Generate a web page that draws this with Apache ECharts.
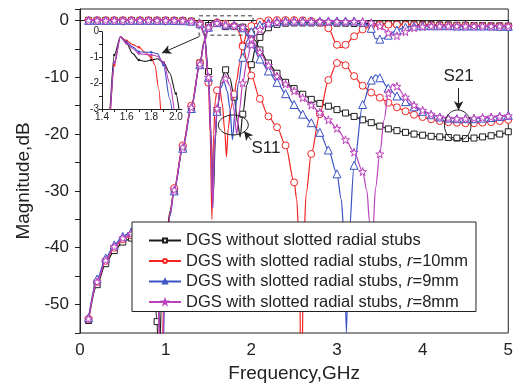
<!DOCTYPE html>
<html>
<head>
<meta charset="utf-8">
<title>DGS S-parameters</title>
<script src="https://cdn.jsdelivr.net/npm/echarts@6/dist/echarts.min.js"></script>
</head>
<body style="margin:0;background:#fff;">
<div id="main" style="width:516px;height:388px;"></div>
<script type="text/javascript">
// legend names
var names = [
    'DGS without slotted radial stubs',
    'DGS with slotted radial stubs, r=10mm',
    'DGS with slotted radial stubs, r=9mm',
    'DGS with slotted radial stubs, r=8mm'
];

// S21 curves [GHz, dB]
var s21Dgs = [[0.1,-52.8],[0.2,-46.5],[0.3,-42.8],[0.4,-40.5],[0.5,-39],[0.6,-38.3],[0.7,-38.3],[0.8,-40],[0.85,-43],[0.9,-53],[0.92,-65],[0.95,-50],[1.0,-39.5],[1.05,-33.6],[1.1,-29.8],[1.2,-22.3],[1.3,-15.2],[1.4,-7.5],[1.45,-3.6],[1.5,-0.9],[1.55,-0.2],[1.6,-0.45],[1.65,-0.85],[1.7,-1.1],[1.75,-1.15],[1.8,-1.1],[1.85,-1.05],[1.9,-1.2],[1.95,-1.6],[2.0,-2.4],[2.05,-3.6],[2.1,-5.2],[2.2,-7.5],[2.3,-9.3],[2.4,-10.9],[2.5,-12],[2.6,-13],[2.7,-13.9],[2.8,-14.6],[2.9,-15.1],[3.0,-15.7],[3.1,-16.3],[3.2,-16.9],[3.3,-17.5],[3.4,-18],[3.5,-18.6],[3.6,-19.1],[3.7,-19.4],[3.8,-19.7],[3.9,-20],[4.0,-20.2],[4.1,-20.4],[4.2,-20.5],[4.3,-20.6],[4.4,-20.7],[4.5,-20.8],[4.6,-20.7],[4.7,-20.5],[4.8,-20.3],[4.9,-20],[5.0,-19.6]];
var s21R10 = [[0.1,-52.5],[0.2,-46],[0.3,-42.3],[0.4,-40],[0.5,-38.5],[0.6,-37.8],[0.7,-37.5],[0.8,-38.5],[0.85,-40.5],[0.9,-45],[0.95,-65],[0.98,-48],[1.0,-42],[1.05,-34],[1.1,-29.5],[1.2,-22],[1.3,-15],[1.4,-7.5],[1.45,-4],[1.5,-1.3],[1.55,-0.2],[1.6,-0.35],[1.65,-0.5],[1.7,-0.6],[1.75,-0.8],[1.8,-1.0],[1.83,-1.3],[1.86,-2.2],[1.9,-4.4],[1.95,-7.2],[2.0,-9.7],[2.1,-13.8],[2.2,-16.9],[2.3,-18.8],[2.4,-22],[2.5,-28.5],[2.53,-31.5],[2.56,-40],[2.585,-72],[2.61,-40],[2.64,-30.5],[2.7,-23.5],[2.8,-16.5],[2.9,-10.5],[3.0,-7.5],[3.05,-7.3],[3.1,-7.9],[3.2,-9.8],[3.3,-11.5],[3.4,-12.7],[3.5,-13.6],[3.6,-14.5],[3.7,-15.3],[3.8,-16],[3.9,-16.6],[4.0,-17],[4.1,-17.4],[4.2,-17.7],[4.3,-17.9],[4.4,-18],[4.5,-18.1],[4.6,-18.1],[4.7,-18],[4.8,-17.9],[4.9,-17.7],[5.0,-17.5]];
var s21R9 = [[0.1,-52.3],[0.2,-45.5],[0.3,-41.8],[0.4,-39.5],[0.5,-38],[0.6,-37.2],[0.7,-37],[0.8,-38],[0.85,-40],[0.9,-44],[0.96,-66],[0.99,-48],[1.05,-34.5],[1.1,-30],[1.2,-22.5],[1.3,-15.5],[1.4,-7.8],[1.45,-3.9],[1.5,-1.2],[1.55,-0.2],[1.6,-0.4],[1.65,-0.6],[1.7,-0.78],[1.75,-0.8],[1.8,-0.8],[1.85,-0.85],[1.9,-1.3],[1.95,-2.6],[2.0,-4.0],[2.1,-6.8],[2.2,-8.9],[2.3,-10.9],[2.4,-12.9],[2.5,-14.8],[2.6,-16.5],[2.7,-18],[2.8,-19.7],[2.9,-22.8],[3.0,-27],[3.05,-31.5],[3.08,-37],[3.11,-55],[3.14,-38],[3.2,-25.5],[3.3,-14.8],[3.4,-10.5],[3.45,-9.6],[3.5,-10.1],[3.6,-11.9],[3.7,-13.3],[3.8,-14.3],[3.9,-15.2],[4.0,-16],[4.1,-16.6],[4.2,-17],[4.3,-17.2],[4.4,-17.3],[4.5,-17.3],[4.6,-17.3],[4.7,-17.2],[4.8,-17.1],[4.9,-16.9],[5.0,-16.7]];
var s21R8 = [[0.1,-52.5],[0.2,-46],[0.3,-42.2],[0.4,-39.8],[0.5,-38.3],[0.6,-37.5],[0.7,-37.3],[0.8,-38.3],[0.85,-40.3],[0.9,-44.5],[0.955,-66],[0.985,-48],[1.05,-34.2],[1.1,-29.8],[1.2,-22.3],[1.3,-15.3],[1.4,-7.7],[1.45,-3.8],[1.5,-1.2],[1.55,-0.2],[1.6,-0.45],[1.65,-0.65],[1.7,-0.85],[1.75,-0.88],[1.8,-0.9],[1.85,-0.95],[1.9,-1.2],[1.95,-2.0],[2.0,-3.3],[2.1,-5.6],[2.2,-7.9],[2.3,-9.8],[2.4,-11.2],[2.5,-12.4],[2.6,-13.6],[2.7,-14.9],[2.8,-16.2],[2.9,-17.5],[3.0,-19],[3.1,-21],[3.2,-23.2],[3.3,-26.6],[3.35,-30],[3.38,-35.5],[3.4,-46],[3.42,-37],[3.45,-29.5],[3.5,-23.5],[3.55,-17.5],[3.6,-12.8],[3.65,-11.2],[3.7,-11.6],[3.8,-13.5],[3.9,-14.9],[4.0,-15.8],[4.1,-16.5],[4.2,-17],[4.3,-17.2],[4.4,-17.3],[4.5,-17.3],[4.6,-17.2],[4.7,-17.1],[4.8,-17],[4.9,-16.9],[5.0,-16.8]];

// S11 curves [GHz, dB]
var s11Dgs = [[0.1,0],[0.2,0],[0.3,0],[0.4,0],[0.5,0],[0.6,0],[0.7,0],[0.8,0],[0.9,0],[1.0,0],[1.1,-0.02],[1.2,-0.05],[1.3,-0.15],[1.4,-0.6],[1.45,-2.2],[1.5,-9],[1.53,-20],[1.555,-31],[1.58,-21],[1.6,-16],[1.65,-10.5],[1.7,-8.7],[1.75,-10.2],[1.8,-13.5],[1.84,-18],[1.87,-20.5],[1.9,-16.5],[1.95,-11.3],[2.0,-7.8],[2.05,-4.8],[2.1,-3.0],[2.2,-1.3],[2.3,-0.7],[2.4,-0.5],[2.5,-0.45],[2.6,-0.45],[2.7,-0.45],[2.8,-0.45],[2.9,-0.5],[3.0,-0.5],[3.1,-0.5],[3.2,-0.55],[3.3,-0.55],[3.4,-0.6],[3.5,-0.6],[3.6,-0.65],[3.7,-0.65],[3.8,-0.7],[3.9,-0.7],[4.0,-0.75],[4.1,-0.75],[4.2,-0.8],[4.3,-0.8],[4.4,-0.85],[4.5,-0.85],[4.6,-0.9],[4.7,-0.9],[4.8,-0.95],[4.9,-0.95],[5.0,-1.0]];
var s11R10 = [[0.1,0],[0.2,0],[0.3,0],[0.4,0],[0.5,0],[0.6,0],[0.7,0],[0.8,0],[0.9,0],[1.0,0],[1.1,-0.02],[1.2,-0.05],[1.3,-0.15],[1.4,-0.6],[1.45,-2.5],[1.5,-11],[1.52,-20],[1.54,-35],[1.56,-20],[1.58,-14],[1.6,-12.3],[1.63,-12],[1.66,-14.5],[1.69,-19.5],[1.71,-24],[1.73,-19],[1.76,-15.5],[1.8,-13],[1.83,-10.5],[1.86,-7.8],[1.9,-4.6],[1.95,-2.2],[2.0,-1.0],[2.05,-0.55],[2.1,-0.25],[2.2,0],[2.3,0.05],[2.4,0.05],[2.5,0.05],[2.6,0],[2.7,-0.1],[2.8,-0.4],[2.9,-1.4],[3.0,-4.3],[3.05,-4.8],[3.1,-4.3],[3.2,-2.8],[3.3,-1.6],[3.4,-1.0],[3.5,-0.8],[3.6,-0.75],[3.7,-0.75],[3.8,-0.8],[3.9,-0.8],[4.0,-0.85],[4.1,-0.85],[4.2,-0.9],[4.3,-0.9],[4.4,-0.95],[4.5,-0.95],[4.6,-1.0],[4.7,-1.0],[4.8,-1.05],[4.9,-1.05],[5.0,-1.1]];
var s11R9 = [[0.1,0],[0.2,0],[0.3,0],[0.4,0],[0.5,0],[0.6,0],[0.7,0],[0.8,0],[0.9,0],[1.0,0],[1.1,-0.02],[1.2,-0.05],[1.3,-0.15],[1.4,-0.6],[1.45,-2.4],[1.5,-10],[1.53,-21],[1.55,-33],[1.57,-22],[1.6,-16],[1.64,-12],[1.68,-10.8],[1.72,-12.5],[1.75,-15.5],[1.78,-21],[1.81,-16],[1.85,-11],[1.9,-6.5],[1.95,-3.6],[2.0,-2.0],[2.05,-1.2],[2.1,-0.8],[2.2,-0.4],[2.3,-0.2],[2.4,-0.1],[2.5,-0.1],[2.6,-0.1],[2.7,-0.1],[2.8,-0.1],[2.9,-0.1],[3.0,-0.1],[3.1,-0.1],[3.2,-0.1],[3.3,-0.3],[3.35,-0.7],[3.4,-1.4],[3.45,-3.2],[3.5,-3.3],[3.55,-3.1],[3.6,-2.6],[3.7,-1.7],[3.8,-1.2],[3.9,-1.0],[4.0,-0.95],[4.1,-0.95],[4.2,-0.95],[4.3,-0.95],[4.4,-1.0],[4.5,-1.0],[4.6,-1.0],[4.7,-1.0],[4.8,-1.0],[4.9,-1.05],[5.0,-1.05]];
var s11R8 = [[0.1,0],[0.2,0],[0.3,0],[0.4,0],[0.5,0],[0.6,0],[0.7,0],[0.8,0],[0.9,0],[1.0,0],[1.1,-0.02],[1.2,-0.05],[1.3,-0.15],[1.4,-0.6],[1.45,-2.4],[1.5,-10],[1.53,-21],[1.55,-33],[1.57,-22],[1.6,-15.5],[1.65,-11],[1.7,-10.2],[1.75,-11.5],[1.79,-15],[1.83,-20],[1.86,-16],[1.9,-11],[1.95,-7],[2.0,-4.3],[2.05,-2.7],[2.1,-1.6],[2.2,-0.6],[2.3,-0.3],[2.4,-0.2],[2.5,-0.2],[2.6,-0.2],[2.7,-0.2],[2.8,-0.2],[2.9,-0.2],[3.0,-0.2],[3.1,-0.2],[3.2,-0.2],[3.3,-0.2],[3.4,-0.4],[3.5,-1.0],[3.55,-1.6],[3.6,-2.2],[3.65,-2.6],[3.7,-2.7],[3.75,-2.4],[3.8,-2.0],[3.9,-1.3],[4.0,-1.1],[4.1,-1.0],[4.2,-1.0],[4.3,-1.0],[4.4,-1.0],[4.5,-1.0],[4.6,-1.0],[4.7,-1.0],[4.8,-1.0],[4.9,-1.0],[5.0,-1.0]];

var colors = ['#1c1c1c', '#f22424', '#3b52c4', '#bc40bc'];
var starPath = 'path://M50,0 L61,35 L98,35 L68,57 L79,91 L50,70 L21,91 L32,57 L2,35 L39,35 Z';
var symbols = ['rect', 'circle', 'triangle', starPath];
var symSizes = [6, 7, 8, 8];
var font = '"Liberation Sans", Arial, sans-serif';

// markers only on the 0.1 GHz grid, extra points just shape the line
function withMarks(pts) {
    return pts.map(function (p) {
        var onGrid = Math.abs(p[0] * 10 - Math.round(p[0] * 10)) < 1e-6;
        return onGrid ? p : { value: p, symbol: 'none' };
    });
}

var myChart = echarts.init(document.getElementById('main'), null, { renderer: 'canvas' });

var s21 = [s21Dgs, s21R10, s21R9, s21R8];
var s11 = [s11Dgs, s11R10, s11R9, s11R8];
var series = [];

for (var i = 0; i < 4; i++) {
    [s21[i], s11[i]].forEach(function (d) {
        series.push({
            name: names[i],
            type: 'line',
            data: withMarks(d),
            smooth: 0.3,
            smoothMonotone: 'x',
            showAllSymbol: true,
            symbol: symbols[i],
            symbolSize: symSizes[i],
            lineStyle: { color: colors[i], width: 1.2 },
            itemStyle: { color: '#fff', borderColor: colors[i], borderWidth: 1 },
            emphasis: { disabled: true },
            z: 2 + i
        });
    });
}
// inset: passband of S21
for (var j = 0; j < 4; j++) {
    series.push({
        name: names[j],
        type: 'line',
        xAxisIndex: 1,
        yAxisIndex: 1,
        data: withMarks(s21[j]),
        smooth: 0.3,
        smoothMonotone: 'x',
        symbol: 'circle',
        symbolSize: 2.5,
        lineStyle: { color: colors[j], width: 1.1 },
        itemStyle: { color: colors[j] },
        emphasis: { disabled: true }
    });
}
// zoom box and arrows
series.push({
    name: '',
    type: 'line',
    data: [],
    silent: true,
    markArea: {
        silent: true,
        itemStyle: { color: 'rgba(0,0,0,0)', borderColor: '#333', borderWidth: 1, borderType: [4, 3] },
        data: [[{ coord: [1.39, 0.8] }, { coord: [2.02, -2.6] }]]
    },
    markLine: {
        silent: true,
        symbol: ['none', 'arrow'],
        symbolSize: [7, 9],
        label: { show: false },
        lineStyle: { color: '#222', width: 1, type: 'solid' },
        data: [
            [{ coord: [1.395, -2.82] }, { coord: [0.957, -5.75] }],
            [{ coord: [2.0, -21.05] }, { coord: [1.915, -19.5] }],
            [{ coord: [4.42, -11.9] }, { coord: [4.42, -15.8] }]
        ]
    }
});

var option = {
    animation: false,
    textStyle: { fontFamily: font },
    grid: [
        { left: 80, right: 7, top: 9, bottom: 55, show: true, borderColor: '#222', borderWidth: 1 },
        { left: 102, top: 31.7, width: 80, height: 77.3 }
    ],
    legend: {
        data: names,
        z: 20,
        orient: 'vertical',
        left: 132,
        top: 222,
        padding: [10, 8, 1, 16],
        itemGap: 3.5,
        itemWidth: 32,
        itemHeight: 5,
        backgroundColor: '#fff',
        borderColor: '#222',
        borderWidth: 1,
        textStyle: {
            fontSize: 16.5, color: '#222', fontFamily: font, lineHeight: 17,
            rich: { i: { fontStyle: 'italic', fontSize: 16.5, color: '#222', fontFamily: font, lineHeight: 17 } }
        },
        formatter: function (n) { return n.replace(', r=', ', {i|r}='); }
    },
    xAxis: [{
        type: 'value',
        min: 0, max: 5, interval: 0.5,
        name: 'Frequency,GHz',
        nameLocation: 'middle',
        nameGap: 31,
        nameTextStyle: { fontSize: 19, color: '#222', fontFamily: font },
        axisLine: { lineStyle: { color: '#222' } },
        axisTick: { length: 5, lineStyle: { color: '#222' } },
        axisLabel: {
            fontSize: 17, color: '#222', margin: 9, fontFamily: font,
            formatter: function (v) { return Number.isInteger(v) ? String(v) : ''; }
        },
        splitLine: { show: false }
    }, {
        type: 'value',
        gridIndex: 1,
        min: 1.4, max: 2.05, interval: 0.1,
        axisLine: { onZero: false, lineStyle: { color: '#222' } },
        axisTick: { length: 3, lineStyle: { color: '#222' } },
        axisLabel: {
            fontSize: 10, color: '#222', margin: 3, fontFamily: font, showMaxLabel: false,
            formatter: function (v) { return Math.round(v * 10) % 2 === 0 ? v.toFixed(1) : ''; }
        },
        splitLine: { show: false }
    }],
    yAxis: [{
        type: 'value',
        min: -55, max: 2, interval: 5,
        name: 'Magnitude,dB',
        nameLocation: 'middle',
        nameGap: 45,
        nameTextStyle: { fontSize: 19, color: '#222', fontFamily: font, padding: [0, 20, 0, 0] },
        axisLine: { lineStyle: { color: '#222' } },
        axisTick: { length: 5, lineStyle: { color: '#222' } },
        axisLabel: {
            fontSize: 17, color: '#222', margin: 11, fontFamily: font,
            formatter: function (v) { return v % 10 === 0 ? String(v) : ''; }
        },
        splitLine: { show: false }
    }, {
        type: 'value',
        gridIndex: 1,
        min: -3, max: 0, interval: 0.5,
        axisLine: { onZero: false, lineStyle: { color: '#222' } },
        axisTick: { length: 3, lineStyle: { color: '#222' } },
        axisLabel: {
            fontSize: 10, color: '#222', margin: 3, fontFamily: font,
            formatter: function (v) { return v % 1 === 0 ? String(v) : ''; }
        },
        splitLine: { show: false }
    }],
    series: series
};

myChart.setOption(option);

// S11 / S21 callouts, placed in data units
var callouts = [
    { text: 'S11', tx: 2.17, ty: -22.5, cx: 1.79, cy: -18.4, rx: 0.175, ry: 1.76 },
    { text: 'S21', tx: 4.42, ty: -9.8, cx: 4.41, cy: -18.46, rx: 0.155, ry: 2.7 }
];
var g = [];
callouts.forEach(function (c) {
    var p = myChart.convertToPixel({ gridIndex: 0 }, [c.cx, c.cy]);
    var q = myChart.convertToPixel({ gridIndex: 0 }, [c.cx + c.rx, c.cy - c.ry]);
    var t = myChart.convertToPixel({ gridIndex: 0 }, [c.tx, c.ty]);
    g.push({
        type: 'ellipse',
        silent: true,
        shape: { cx: p[0], cy: p[1], rx: q[0] - p[0], ry: q[1] - p[1] },
        style: { fill: 'none', stroke: '#222', lineWidth: 1 },
        z: 10
    });
    g.push({
        type: 'text',
        silent: true,
        x: t[0], y: t[1],
        style: { text: c.text, fontSize: 17, fill: '#222', font: '17px ' + font, textAlign: 'center', textVerticalAlign: 'middle' },
        z: 10
    });
});
myChart.setOption({ graphic: g });
</script>
</body>
</html>
